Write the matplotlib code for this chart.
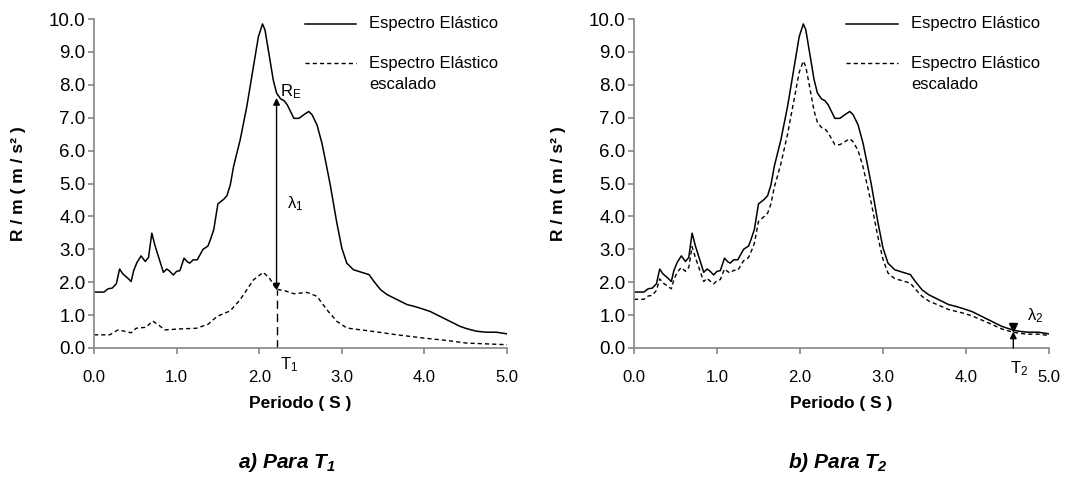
import matplotlib
matplotlib.use("Agg")
import matplotlib.pyplot as plt
from matplotlib.lines import Line2D

plt.rcParams['font.family'] = ['Liberation Sans', 'DejaVu Sans']
plt.rcParams['mathtext.default'] = 'regular'

# ---------------- data ----------------
periods = [0.00, 0.12, 0.17, 0.22, 0.27, 0.31, 0.35, 0.41, 0.45, 0.48, 0.52, 0.57,
           0.62, 0.66, 0.70, 0.74, 0.79, 0.84, 0.88, 0.91, 0.96, 1.00, 1.04, 1.09,
           1.13, 1.16, 1.20, 1.25, 1.32, 1.38, 1.41, 1.45, 1.50, 1.57, 1.61, 1.65,
           1.69, 1.77, 1.85, 1.93, 1.99, 2.04, 2.07, 2.13, 2.17, 2.21, 2.26, 2.30,
           2.34, 2.42, 2.48, 2.54, 2.60, 2.64, 2.70, 2.76, 2.81, 2.86, 2.94, 3.00,
           3.06, 3.14, 3.24, 3.33, 3.39, 3.47, 3.55, 3.67, 3.79, 3.87, 3.95, 4.07,
           4.19, 4.31, 4.43, 4.51, 4.63, 4.75, 4.87, 5.00]

elastic = [1.70, 1.70, 1.80, 1.82, 1.95, 2.40, 2.25, 2.12, 2.02, 2.35, 2.60, 2.80,
           2.63, 2.75, 3.49, 3.10, 2.70, 2.30, 2.40, 2.35, 2.22, 2.33, 2.35, 2.73,
           2.62, 2.58, 2.68, 2.68, 3.00, 3.10, 3.30, 3.60, 4.38, 4.52, 4.63, 4.96,
           5.52, 6.33, 7.34, 8.55, 9.46, 9.85, 9.67, 8.76, 8.15, 7.75, 7.57, 7.52,
           7.39, 6.98, 6.98, 7.09, 7.19, 7.09, 6.78, 6.22, 5.60, 4.96, 3.80, 3.04,
           2.58, 2.38, 2.30, 2.23, 2.02, 1.77, 1.62, 1.47, 1.32, 1.27, 1.21, 1.11,
           0.96, 0.81, 0.66, 0.59, 0.51, 0.48, 0.48, 0.43]

# scaled spectrum, panel a (T1)
periods_a = [0.00, 0.19, 0.29, 0.39, 0.45, 0.51, 0.63, 0.71, 0.78, 0.86, 1.04, 1.24,
             1.38, 1.49, 1.65, 1.77, 1.93, 2.05, 2.13, 2.21, 2.30, 2.42, 2.58, 2.70,
             2.82, 2.94, 3.06, 3.14, 3.39, 3.67, 4.00, 4.27, 4.51, 5.00]
scaled_a = [0.40, 0.40, 0.55, 0.50, 0.46, 0.60, 0.63, 0.82, 0.70, 0.55, 0.58, 0.60,
            0.72, 0.96, 1.13, 1.47, 2.07, 2.30, 2.10, 1.78, 1.75, 1.65, 1.69, 1.57,
            1.16, 0.81, 0.61, 0.58, 0.50, 0.40, 0.30, 0.23, 0.15, 0.10]

# scaled spectrum, panel b (T2)
scaled_b = [1.48, 1.48, 1.58, 1.60, 1.75, 2.10, 1.98, 1.87, 1.80, 2.08, 2.30, 2.45,
            2.33, 2.45, 3.08, 2.75, 2.38, 2.02, 2.12, 2.05, 1.95, 2.05, 2.08, 2.40,
            2.32, 2.28, 2.36, 2.36, 2.65, 2.75, 2.92, 3.18, 3.85, 4.00, 4.10, 4.38,
            4.88, 5.60, 6.50, 7.57, 8.38, 8.72, 8.55, 7.75, 7.20, 6.86, 6.70, 6.66,
            6.54, 6.18, 6.18, 6.27, 6.36, 6.27, 6.00, 5.50, 4.95, 4.39, 3.36, 2.69,
            2.28, 2.11, 2.04, 1.97, 1.79, 1.57, 1.43, 1.30, 1.17, 1.12, 1.07, 0.98,
            0.85, 0.72, 0.58, 0.52, 0.45, 0.42, 0.42, 0.38]

x_ticks = [0.0, 1.0, 2.0, 3.0, 4.0, 5.0]
y_ticks = [0, 1, 2, 3, 4, 5, 6, 7, 8, 9, 10]
legend_labels = ["Espectro Elástico", "Espectro Elástico", "escalado"]
captions = ["a) Para T$_1$", "b) Para T$_2$"]

# annotation anchors
T1 = 2.21
RE_top = 7.6
RE_bot = 1.75
T2 = 4.57

# ---------------- figure ----------------
W, H = 1065, 479
fig = plt.figure(figsize=(W / 100, H / 100), dpi=100)

gray = '#868686'
fs = 12

def make_axes(left_px, right_px):
    ax = fig.add_axes([left_px / W, 1 - 348 / H, (right_px - left_px) / W, 329 / H])
    ax.set_xlim(0, 5)
    ax.set_ylim(0, 10)
    for s in ['top', 'right']:
        ax.spines[s].set_visible(False)
    for s in ['left', 'bottom']:
        ax.spines[s].set_color(gray)
        ax.spines[s].set_linewidth(1.2)
    ax.set_xticks(x_ticks)
    ax.set_yticks(y_ticks)
    ax.set_xticklabels([f"{v:.1f}" for v in x_ticks])
    ax.set_yticklabels([f"{v:.1f}" for v in y_ticks])
    ax.tick_params(axis='both', direction='out', color=gray, width=1.2, length=4,
                   labelcolor='black')
    ax.tick_params(axis='x', pad=12, labelsize=fs)
    ax.tick_params(axis='y', pad=2, labelsize=13.5)
    ax.set_xlabel("Periodo ( S )", fontsize=12.5, fontweight='bold')
    ax.xaxis.set_label_coords(0.5, -0.145)
    ax.set_ylabel("R / m ( m / s² )", fontsize=12.5, fontweight='bold', va='center')
    ax.patch.set_alpha(0)
    return ax

def legend(ax):
    x0, x1, xt = 0.51, 0.635, 0.667
    ax.add_line(Line2D([x0, x1], [0.985, 0.985], transform=ax.transAxes, color='black',
                       lw=1.1, clip_on=False))
    ax.add_line(Line2D([x0, x1], [0.866, 0.866], transform=ax.transAxes, color='black',
                       lw=1.0, ls=(0, (3, 2.2)), clip_on=False))
    ax.text(xt, 0.985, legend_labels[0], transform=ax.transAxes, fontsize=fs, va='center')
    ax.text(xt, 0.866, legend_labels[1], transform=ax.transAxes, fontsize=fs, va='center')
    ax.text(xt, 0.80, legend_labels[2], transform=ax.transAxes, fontsize=fs, va='center')

# ---- panel a ----
axa = make_axes(94, 507)
axa.yaxis.set_label_coords(-0.182, 0.5)
axa.plot(periods, elastic, color='black', lw=1.1)
axa.plot(periods_a, scaled_a, color='black', lw=1.0, ls=(0, (3, 2.2)))
axa.annotate('', xy=(T1, RE_top), xytext=(T1, RE_bot),
             arrowprops=dict(arrowstyle='<|-|>', color='black', lw=1.0,
                             mutation_scale=10, shrinkA=0, shrinkB=0))
axa.plot([T1, T1], [0, RE_bot], color='black', lw=1.0, ls=(0, (6, 3.5)))
axa.text(2.25, 7.8, "R$_E$", fontsize=fs, va='center', ha='left')
axa.text(2.34, 4.4, "λ$_1$", fontsize=fs, va='center', ha='left')
axa.text(2.25, -0.52, "T$_1$", fontsize=fs, va='center', ha='left')
legend(axa)

# ---- panel b ----
axb = make_axes(634, 1049)
axb.yaxis.set_label_coords(-0.183, 0.5)
axb.plot(periods, elastic, color='black', lw=1.1)
axb.plot(periods, scaled_b, color='black', lw=1.0, ls=(0, (3, 2.2)))
axb.annotate('', xy=(T2, 0.50), xytext=(T2, 0.0),
             arrowprops=dict(arrowstyle='-|>', color='black', lw=1.0,
                             mutation_scale=10, shrinkA=0, shrinkB=0))
axb.plot([T2], [0.63], marker='v', color='black', ms=6, ls='none')
axb.text(4.73, 0.97, "λ$_2$", fontsize=fs, va='center', ha='left')
axb.text(4.53, -0.62, "T$_2$", fontsize=fs, va='center', ha='left')
legend(axb)

# ---- captions ----
fig.text(287 / W, 1 - 462 / H, captions[0], fontsize=15, fontweight='bold',
         style='italic', ha='center', va='center')
fig.text(838 / W, 1 - 462 / H, captions[1], fontsize=15, fontweight='bold',
         style='italic', ha='center', va='center')

fig.savefig("out.png", dpi=100)
